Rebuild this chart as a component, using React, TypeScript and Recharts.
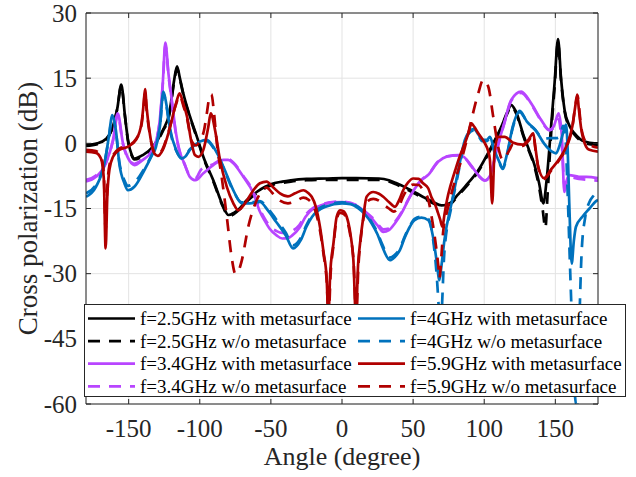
import React from 'react'
import { LineChart, Line, XAxis, YAxis, CartesianGrid } from 'recharts'

const W = 636
const H = 477
const AXIS = '#262626'
const SERIF = "'Liberation Serif', 'Times New Roman', Times, serif"

const X_TICKS = [-150, -100, -50, 0, 50, 100, 150]
const Y_TICKS = [-60, -45, -30, -15, 0, 15, 30]

type Pt = [number, number]

// [angle (deg), cross polarization (dB)]
const f25With: Pt[] = [
  [-180, -0.4], [-172, 0], [-166, 1], [-162, 3], [-158, 8], [-155.2, 13.5], [-152.5, 6], [-150.5, 0.8],
  [-148, -2.5], [-146, -3.5], [-140, -2.7], [-133, -0.8], [-126, 3], [-121.4, 6.9], [-118, 14.6],
  [-116, 17.7], [-114, 15], [-111.6, 11.5], [-106.9, 6.2], [-102, 1.5], [-97.5, -3.1], [-90.5, -8.5],
  [-83.4, -14.6], [-79.9, -16.5], [-76, -16], [-72, -15], [-67, -13.1], [-60, -11.2], [-54, -10],
  [-50, -9.4], [-42, -8.8], [-36, -8.5], [-25, -8.2], [-10, -8.1], [0, -8], [10, -8], [26, -8.1],
  [33, -8.5], [38.4, -9.2], [45, -10.2], [52.5, -11.5], [58, -12.5], [64, -13.5], [70, -14.3],
  [74, -14], [77, -13.5], [81, -12], [86.4, -10], [95.8, -6.2], [105, -0.8], [112, 3.8], [116, 7],
  [119, 8.8], [122, 7.5], [128, 1.5], [131.5, -1.5], [135, -4.6], [138.5, -9], [141.6, -13.8],
  [144, -8], [147, 3.8], [149.5, 14], [151.9, 24], [154, 15], [156.5, 7.7], [160, 4], [163.5, 2.3],
  [170.6, 0.4], [177.6, 0], [180, 0],
]

const f25Without: Pt[] = [
  [-180, -0.6], [-172, -0.2], [-166, 0.8], [-162, 3], [-158, 8], [-155.2, 13.2], [-152.5, 6], [-150.5, 0.6],
  [-148, -2.7], [-146, -3.7], [-140, -2.9], [-133, -1], [-126, 2.8], [-121.4, 6.6], [-118, 14.2],
  [-116, 17.2], [-114, 14.8], [-111.6, 11.2], [-106.9, 6], [-102, 1.2], [-97.5, -3.3], [-90.5, -8.8],
  [-83.4, -14.8], [-79.9, -16.8], [-76, -16.3], [-72, -15.2], [-67, -13.4], [-60, -11.5], [-54, -10.3],
  [-50, -9.7], [-42, -9.1], [-36, -8.8], [-25, -8.5], [-10, -8.4], [0, -8.4], [10, -8.4], [26, -8.4],
  [33, -8.8], [38.4, -9.5], [45, -10.5], [52.5, -11.8], [58, -12.8], [64, -13.8], [70, -14.6],
  [74, -14.3], [77, -13.8], [81, -12.3], [86.4, -10.3], [95.8, -6.5], [105, -1.1], [112, 3.5],
  [116, 6.7], [119, 8.5], [122, 7.2], [128, 1.2], [131.5, -1.8], [135, -5], [138.5, -10], [141, -15],
  [143, -19.5], [144.5, -12], [147, 2], [149.5, 13], [151.9, 23.3], [154, 14.5], [156.5, 7.4],
  [160, 3.7], [163.5, 2], [170.6, 0.1], [177.6, -0.3], [180, -0.3],
]

const f34With: Pt[] = [
  [-180, -8.8], [-173, -7.7], [-166, -4.6], [-161, 0.8], [-157.7, 6.9], [-154, 0], [-151, -3],
  [-148, -4.6], [-146, -5], [-140, -3.8], [-133, -1.5], [-128.4, 4.6], [-126, 14], [-124.2, 23.2],
  [-122, 16], [-120, 10.8], [-116.7, 2.3], [-113, -3], [-111, -4.5], [-107, -7.7], [-103, -8.5],
  [-97.5, -6.9], [-90.5, -5], [-83.4, -3.8], [-80, -3.8], [-76.4, -4.6], [-69.4, -7.7], [-62.3, -11.5],
  [-58, -15.5], [-54, -18], [-51, -19.6], [-46, -21.2], [-42, -21.9], [-38, -21.8], [-35, -21.2],
  [-30, -19.5], [-25.6, -16.9], [-20, -15], [-14, -14.2], [-7, -13.6], [0, -13.5], [6, -13.8],
  [11.6, -14.6], [16, -15.8], [21, -17.3], [25, -18.9], [29, -20.4], [33, -20], [37, -18.5],
  [42, -16], [46.5, -13.1], [51, -10.5], [55.8, -8.5], [60.5, -7.3], [67.8, -4.2], [74, -3],
  [82, -2.7], [86, -3.2], [91, -5.2], [95.8, -7.3], [100.5, -8.5], [104, -7.5], [107, -4], [110, 0],
  [114, 4.6], [119, 10], [126, 11.9], [133, 9.2], [140, 5.4], [145.8, 3.1], [149, 4], [152.3, 6.9],
  [154.5, 2], [156.3, -11.2], [158, -8.5], [159.8, -7.3], [166.6, -7.7], [172, -7.7], [180, -8],
]

const f34Without: Pt[] = [
  [-180, -8.4], [-173, -7.4], [-166, -4.4], [-161, 0.6], [-157.7, 6.5], [-154, -0.2], [-151, -3.2],
  [-148, -4.4], [-146, -4.7], [-140, -3.6], [-133, -1.3], [-128.4, 4.4], [-126, 13.6], [-124.2, 22.6],
  [-122, 15.6], [-120, 10.4], [-116.7, 2], [-113, -3.2], [-111, -4.6], [-107, -7.4], [-103, -8],
  [-99, -6], [-90.5, -4.8], [-83.4, -3.6], [-80, -3.6], [-76.4, -4.4], [-69.4, -7.5], [-62.3, -11.2],
  [-58, -15], [-54, -17.5], [-51, -19], [-46, -20.2], [-42, -20.6], [-38, -20.6], [-35, -20.2],
  [-30, -18.8], [-25.6, -16.5], [-20, -14.8], [-14, -14], [-7, -13.5], [0, -13.4], [6, -13.7],
  [11.6, -14.5], [16, -15.6], [21, -17], [25, -18.5], [29, -19.8], [33, -19.6], [37, -18.2],
  [42, -15.8], [46.5, -13], [51, -10.4], [55.8, -8.4], [60.5, -7.2], [67.8, -4.1], [74, -3],
  [82, -2.8], [86, -3.3], [91, -5.3], [95.8, -7.4], [100.5, -8.6], [104, -7.6], [107, -4.2], [110, -0.2],
  [114, 4.4], [119, 9.8], [126, 11.6], [133, 9], [140, 5.2], [145.8, 3], [149, 3.6], [152.3, 5.5],
  [154.5, 0], [156.6, -10], [158.5, -8.3], [160.5, -7.8], [166.6, -8.2], [172, -8.4], [180, -8.6],
]

const f4With: Pt[] = [
  [-180, -12.3], [-173, -10], [-167, -4.6], [-163.6, 2.3], [-161.7, 6.5], [-159, 3], [-156.6, -4.6],
  [-153, -9.2], [-150.5, -10.8], [-146, -10], [-139, -6.2], [-134, -3], [-130.8, -0.8], [-128, 4],
  [-125.6, 11.9], [-123.5, 9], [-121, 3.5], [-116.7, -1.5], [-113, -3.5], [-110, -3], [-107, -1.5],
  [-100, 0.4], [-95, 0.8], [-90.5, -0.8], [-87, -2.8], [-83.4, -5.4], [-76.4, -10.8], [-70.5, -13.8],
  [-64.7, -13.8], [-57.7, -13.5], [-52, -15.5], [-46.5, -18], [-39.5, -21.2], [-34.4, -24.2],
  [-29, -22.3], [-25, -19.2], [-21, -16.9], [-11.6, -14.6], [0, -13.8], [6, -14], [11.6, -15],
  [16, -16.3], [21, -18.5], [25, -21], [28, -23.5], [33.7, -26.9], [37, -26.2], [40.7, -24.6],
  [44, -21.8], [47.7, -19.2], [51, -17.7], [55.8, -17.1], [60.7, -17.7], [64, -21.5], [66.5, -27],
  [68.5, -31.5], [70, -28], [72, -22.3], [77, -13.8], [81.8, -6.2], [86.4, 0.8], [89, 2.5],
  [92.5, 3.3], [96, 2], [98.5, 0.8], [102, 0.8], [104, 1.5], [107, -1.5], [110, -3.8], [113, -5.6],
  [116, -2.5], [120, 3.8], [125, 7.5], [130, 5], [136, 3.1], [142, 0], [146, -1.5], [150.5, -2.3],
  [153, -0.5], [156, 3], [157.5, 4.3], [158.5, 0], [159.8, -13.8], [161.5, -27.7], [163, -22.5],
  [164.5, -19.2], [169, -16.9], [174, -15], [178.6, -13.3], [180, -13],
]

const f4Without: Pt[] = [
  [-180, -11.5], [-173, -9.5], [-167, -4.4], [-163.6, 2], [-161.7, 6.2], [-159, 2.8], [-156.6, -4.2],
  [-153, -8.5], [-150.5, -9.8], [-146, -9], [-139, -5.8], [-134, -2.8], [-130.8, -0.6], [-128, 4],
  [-125.6, 11.4], [-123.5, 8.7], [-121, 3.2], [-116.7, -1.6], [-113, -3.3], [-110, -2.8], [-107, -1.4],
  [-100, 0.2], [-95, 0.5], [-90.5, -1], [-87, -3], [-83.4, -5.6], [-76.4, -11], [-70.5, -13.6],
  [-64.7, -13.6], [-57.7, -13.3], [-52, -15], [-46.5, -17.4], [-39.5, -20.6], [-34.4, -23.5],
  [-29, -21.8], [-25, -18.8], [-21, -16.5], [-11.6, -14.3], [0, -13.6], [6, -13.8], [11.6, -14.7],
  [16, -16], [21, -18.2], [25, -20.6], [28, -23], [33.7, -26.3], [37, -25.7], [40.7, -24.2],
  [44, -21.5], [47.7, -19], [51, -17.4], [55.8, -16.9], [60.7, -17.4], [64, -22], [66.5, -30],
  [68.5, -40], [69.5, -44], [70.5, -36], [72, -25], [77, -14.5], [81.8, -6.8], [86.4, 0.4], [89, 2.2],
  [92.5, 3], [96, 1.7], [98.5, 0.5], [102, 0.5], [104, 1.2], [107, -1.8], [110, -4], [113, -5.9],
  [116, -2.8], [120, 3.5], [125, 7.2], [130, 5], [136, 3], [142, 1], [146, 1.2], [150.5, 1.2],
  [153, 1.5], [155.5, 4], [157, 2], [158.5, -10], [160.5, -30], [162.5, -48], [164.5, -60],
  [165.5, -60], [167, -40], [168.5, -25], [171, -17], [174, -13.5], [177, -12], [180, -11],
]

const f59With: Pt[] = [
  [-180, -1.9], [-173, -2.2], [-169.5, -3.5], [-167.5, -8], [-166.2, -24.2], [-165, -12], [-163.5, -6],
  [-161, -3.1], [-156.6, -1.5], [-150.7, -0.8], [-144.8, 0.8], [-141, 4.6], [-139.5, 9], [-138.5, 12.5],
  [-137.3, 8], [-135.5, 3.1], [-132, -2.3], [-129.6, -2.9], [-126, -1.5], [-121.4, 3.1], [-116.7, 9.2],
  [-114.2, 11.5], [-111.5, 9], [-109, 6.2], [-105.7, 0], [-103.4, -2.7], [-101, -3.1], [-97.5, -1.5],
  [-94, 3.8], [-92.3, 6.9], [-89.3, 3.1], [-85.8, -3.8], [-81, -10], [-76.4, -13.8], [-73, -15.4],
  [-68.2, -13.8], [-62.3, -10.8], [-57.7, -9.2], [-53, -8.8], [-48.8, -10], [-43.6, -11.5], [-38, -12.2],
  [-33, -11.5], [-27.2, -10.8], [-23.5, -11.5], [-21.3, -12.3], [-18.5, -14.5], [-15.5, -19.2],
  [-13, -25], [-10.8, -31], [-9.6, -40], [-8.3, -30], [-6, -23], [-3.75, -16.9], [-1.4, -15.4],
  [1, -15.6], [3.3, -16.9], [6, -21], [8, -26.9], [9.8, -40], [11.3, -28], [12.7, -23], [15, -16.9],
  [17.3, -12.3], [22, -11.2], [26, -11.6], [29, -12.3], [33, -13.5], [37.3, -14.6], [40, -13.2],
  [43, -10.8], [46.5, -9], [50, -8.1], [54, -8.2], [57, -9.2], [60.7, -10.4], [63, -12.5], [65.4, -14],
  [67.5, -16], [69, -17.5], [70.6, -19.2], [72, -16.5], [73.8, -13.1], [76.5, -9.5], [79.6, -6.2],
  [83, -2.8], [86.4, 0], [89, 2.5], [91, 4.6], [93, 3.8], [95.8, 2.3], [100.5, 0], [102.5, -1.5],
  [104, -3.8], [105.6, -13.8], [107.2, -2.3], [109.8, 1.5], [114.5, 1.5], [120, 0.2], [127, -0.3],
  [131, 0.8], [134.5, 2.3], [136, -1], [138, -5.4], [142, -8], [147, -6], [153, -3.5], [158, -0.5],
  [162, 4], [163.8, 8], [165.4, 11.2], [166.5, 8], [168, 3.8], [171.7, -0.8], [174, -1.5], [180, -1.9],
]

const f59Without: Pt[] = [
  [-180, -1.5], [-173, -1.8], [-169.5, -3], [-167.5, -7], [-166.2, -20], [-165, -10], [-163.5, -5],
  [-161, -2.8], [-156.6, -1.2], [-150.7, -0.6], [-144.8, 1], [-141, 4.2], [-139.5, 8.5], [-138.5, 11.8],
  [-137.3, 7.5], [-135.5, 2.8], [-132, -2], [-129.6, -2.6], [-126, -1.2], [-121.4, 3.3], [-116.7, 9],
  [-114.2, 11], [-111.5, 8.6], [-109, 5.8], [-105.7, 0.5], [-102.5, -0.5], [-100, 0.6], [-97, 3],
  [-95, 7], [-93, 11], [-91.8, 11.3], [-90, 7], [-88, 0], [-84.6, -7.7], [-81, -16.9], [-77.6, -26.2],
  [-75, -30], [-73, -29.5], [-70.5, -27], [-65.9, -19.2], [-60, -13.1], [-56, -10.8], [-53, -10.2],
  [-48.8, -11.5], [-43.6, -13.2], [-38, -13.8], [-33, -13.4], [-27.2, -12.5], [-23.5, -13],
  [-21.3, -13.8], [-18.5, -15.8], [-15.5, -20], [-13, -25.5], [-10.8, -31.5], [-9.4, -40], [-8, -30],
  [-6, -23.5], [-3.75, -17.5], [-1.4, -16], [1, -16.2], [3.3, -17.5], [6, -21.5], [8.2, -27.5],
  [10, -40], [11.5, -28.5], [12.7, -23.5], [15, -17.5], [17.3, -13.5], [22, -12.8], [26, -13.2],
  [29, -14], [33, -15], [36.5, -15.7], [40, -14.5], [43, -12.2], [46.5, -10.3], [50, -9.5], [54, -9.6],
  [57, -10.8], [60.7, -13], [63, -16.9], [65.4, -22], [67.8, -28.5], [68.5, -31], [70, -25.5],
  [71, -20.8], [74, -15.5], [77, -11.5], [80.5, -7.5], [84, -3.8], [87.5, 0.5], [91, 5.4], [95.8, 11.5],
  [99.3, 14.6], [102.8, 13.1], [106.3, 6.2], [109.8, -0.8], [113, -3.8], [117.8, -1.5], [120, -0.3],
  [127, -0.6], [131, 0.5], [134.5, 2], [136, -1.3], [138, -5.6], [142, -8.2], [147, -6.3],
  [153, -3.7], [158, -0.8], [162, 3.8], [163.8, 8], [165.6, 11], [166.8, 8], [168, 4], [171.7, 0.2],
  [175, -0.5], [180, -1],
]

const SERIES = [
  { name: 'f=2.5GHz with metasurface', color: '#000000', dashed: false, points: f25With },
  { name: 'f=2.5GHz w/o metasurface', color: '#000000', dashed: true, points: f25Without },
  { name: 'f=3.4GHz with metasurface', color: '#B845FF', dashed: false, points: f34With },
  { name: 'f=3.4GHz w/o metasurface', color: '#B845FF', dashed: true, points: f34Without },
  { name: 'f=4GHz with metasurface', color: '#0072BD', dashed: false, points: f4With },
  { name: 'f=4GHz w/o metasurface', color: '#0072BD', dashed: true, points: f4Without },
  { name: 'f=5.9GHz with metasurface', color: '#B00000', dashed: false, points: f59With },
  { name: 'f=5.9GHz w/o metasurface', color: '#B00000', dashed: true, points: f59Without },
]

const DASH = '12 9'
const LINE_W = 2.7
const tickStyle = { fontFamily: SERIF, fontSize: 25, fill: AXIS }

// ticks point inward on every side of the box
function BottomTick({ x, y, payload }: any) {
  return (
    <g>
      <line x1={x} y1={y} x2={x} y2={y - 5} stroke={AXIS} />
      <text x={x} y={y + 33} textAnchor="middle" style={tickStyle}>{payload.value}</text>
    </g>
  )
}

function TopTick({ x, y }: any) {
  return <line x1={x} y1={y} x2={x} y2={y + 5} stroke={AXIS} />
}

function LeftTick({ x, y, payload }: any) {
  return (
    <g>
      <line x1={x} y1={y} x2={x + 5} y2={y} stroke={AXIS} />
      <text x={x - 9} y={y + 8.5} textAnchor="end" style={tickStyle}>{payload.value}</text>
    </g>
  )
}

function RightTick({ x, y }: any) {
  return <line x1={x} y1={y} x2={x - 5} y2={y} stroke={AXIS} />
}

function XTitle({ viewBox }: any) {
  return (
    <text x={viewBox.x + viewBox.width / 2} y={465} textAnchor="middle"
      style={{ fontFamily: SERIF, fontSize: 26, fill: AXIS }}>
      Angle (degree)
    </text>
  )
}

function YTitle({ viewBox }: any) {
  const cy = viewBox.y + viewBox.height / 2
  return (
    <text x={37} y={cy} transform={`rotate(-90 37 ${cy})`} textAnchor="middle"
      style={{ fontFamily: SERIF, fontSize: 27, fill: AXIS }}>
      Cross polarization (dB)
    </text>
  )
}

function LegendBox() {
  return (
    <svg width={W} height={H} style={{ position: 'absolute', left: 0, top: 0, pointerEvents: 'none' }}>
      <rect x={84.5} y={304.5} width={541} height={92} fill="#fff" stroke={AXIS} />
      {SERIES.map((s, i) => {
        const x0 = i < 4 ? 88 : 358
        const cy = 318.5 + (i % 4) * 22.6
        return (
          <g key={s.name}>
            <line x1={x0} y1={cy} x2={x0 + 47} y2={cy} stroke={s.color} strokeWidth={LINE_W}
              strokeDasharray={s.dashed ? DASH : undefined} />
            <text x={x0 + 52} y={cy + 6.5} style={{ fontFamily: SERIF, fontSize: 19, fill: '#000' }}>
              {s.name}
            </text>
          </g>
        )
      })}
    </svg>
  )
}

export default function App() {
  return (
    <div style={{ position: 'absolute', left: 0, top: 0, width: W, height: H, background: '#fff', fontFamily: SERIF }}>
      <LineChart width={W} height={H} margin={{ top: 12, right: 37, bottom: 13, left: 6 }}>
        <CartesianGrid stroke="#e3e3e3" strokeWidth={1} />
        <XAxis dataKey="x" type="number" domain={[-180, 180]} ticks={X_TICKS} interval={0}
          allowDataOverflow height={60} tickSize={0} tickMargin={0} tickLine={false}
          axisLine={{ stroke: AXIS }} tick={<BottomTick />} label={<XTitle />} />
        <XAxis xAxisId="top" orientation="top" dataKey="x" type="number" domain={[-180, 180]}
          ticks={X_TICKS} interval={0} allowDataOverflow height={1} tickSize={0} tickMargin={0}
          tickLine={false} axisLine={{ stroke: AXIS }} tick={<TopTick />} />
        <YAxis type="number" domain={[-60, 30]} ticks={Y_TICKS} interval={0} allowDataOverflow
          width={80} tickSize={0} tickMargin={0} tickLine={false} axisLine={{ stroke: AXIS }}
          tick={<LeftTick />} label={<YTitle />} />
        <YAxis yAxisId="right" orientation="right" type="number" domain={[-60, 30]} ticks={Y_TICKS}
          interval={0} allowDataOverflow width={1} tickSize={0} tickMargin={0} tickLine={false}
          axisLine={{ stroke: AXIS }} tick={<RightTick />} />
        {SERIES.map((s) => (
          <Line key={s.name} data={s.points.map(([x, y]) => ({ x, y }))} dataKey="y" type="monotone"
            stroke={s.color} strokeWidth={LINE_W} strokeDasharray={s.dashed ? DASH : undefined}
            dot={false} activeDot={false} isAnimationActive={false} />
        ))}
      </LineChart>
      <LegendBox />
    </div>
  )
}
